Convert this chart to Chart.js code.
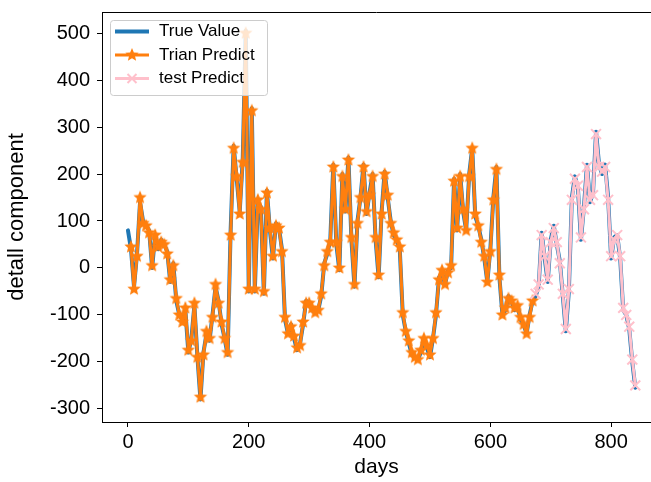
<!DOCTYPE html>
<html>
<head>
<meta charset="utf-8">
<script src="https://cdn.jsdelivr.net/npm/chart.js@4.4.0/dist/chart.umd.min.js"></script>
<style>
    html, body { margin: 0; padding: 0; background: #fff; }
    canvas { display: block; }
</style>
</head>
<body>
<canvas id="myChart" width="651" height="482"></canvas>
<script>
// one value every 5 days
const dayStep = 5
const trueStart = 0
const trainStart = 5
const testStart = 675

const seriesNames = ['True Value', 'Trian Predict', 'test Predict']
const xTitle = 'days'
const yTitle = 'detall component'
const xTicks = [0, 200, 400, 600, 800]
const yTicks = [-300, -200, -100, 0, 100, 200, 300, 400, 500]

const trueValue = [
    80, 40, -40, 30, 140, 100, 90, 80, 0, 70,
    40, 60, 50, 35, -30, 10, -70, -100, -110, -90,
    -180, -150, -80, -190, -280, -180, -140, -155, -100, -40,
    -70, -120, -150, -185, 80, 260, 190, 120, 230, 505,
    -50, 340, -50, 140, 130, -55, 165, 80, 20, 95,
    85, 40, -110, -140, -120, -150, -175, -160, -120, -70,
    -75, -90, -95, -90, -60, 10, 30, 60, 220, 50,
    -5, 200, 120, 235, 60, -40, 100, 150, 220, 115,
    160, 200, 60, -20, 120, 205, 150, 100, 70, 60,
    40, -100, -135, -160, -185, -190, -195, -180, -150, -170,
    -190, -150, -100, -20, -10, -35, -5, 0, 190, 80,
    200, 120, 80, 200, 255, 110, 90, 60, 20, -30,
    40, 150, 215, -20, -100, -90, -60, -70, -90, -80,
    -110, -120, -140, -100, -70, -60, -40, 75, 20, -30,
    60, 90, 50, 15, -60, -135, -50, 150, 195, 170,
    60, 130, 220, 140, 160, 290, 220, 200, 220, 150,
    20, 65, 70, 20, -90, -100, -130, -200, -255
]

const trainPredict = [
    45, -45, 25, 150, 95, 90, 75, 5, 70,
    45, 55, 50, 30, -25, 5, -65, -100, -115, -85,
    -175, -155, -75, -190, -275, -185, -135, -150, -105, -35,
    -75, -115, -150, -180, 70, 255, 195, 115, 225, 500,
    -45, 335, -45, 145, 125, -50, 160, 85, 25, 90,
    85, 35, -105, -140, -125, -145, -170, -165, -115, -75,
    -75, -85, -95, -90, -55, 5, 35, 55, 215, 55,
    0, 195, 125, 230, 65, -35, 95, 150, 215, 120,
    155, 195, 65, -15, 115, 200, 155, 95, 75, 60,
    45, -95, -135, -155, -180, -190, -195, -175, -150, -165,
    -185, -150, -95, -25, -5, -35, -10, 5, 185, 85,
    195, 125, 80, 195, 255, 115, 90, 55, 25, -30,
    35, 145, 210, -15, -100, -85, -65, -70, -85, -80,
    -105, -120, -140, -105, -70
]

const testPredict = [
    -55, -35, 70, 25, -25,
    55, 85, 55, 10, -55, -130, -45, 145, 190, 175,
    65, 125, 215, 145, 155, 285, 215, 205, 215, 145,
    25, 60, 70, 25, -85, -100, -125, -195, -250
]

const toPoints = (start, values) => values.map((v, i) => ({ x: start + i * dayStep, y: v }))

// filled star marker like matplotlib '*'
const starImg = (() => {
    const r = 7
    const c = document.createElement('canvas')
    c.width = c.height = r * 2 + 2
    const g = c.getContext('2d')
    const m = c.width / 2
    g.beginPath()
    for (let i = 0; i < 10; i++) {
        const rr = i % 2 ? r * 0.45 : r
        const a = -Math.PI / 2 + i * Math.PI / 5
        g.lineTo(m + rr * Math.cos(a), m + rr * Math.sin(a))
    }
    g.closePath()
    g.fillStyle = '#ff7f0e'
    g.fill()
    return c
})()

const topSpine = {
    id: 'topSpine',
    afterDraw(chart) {
        const { ctx, chartArea } = chart
        ctx.save()
        ctx.strokeStyle = '#000'
        ctx.lineWidth = 1
        ctx.beginPath()
        ctx.moveTo(chartArea.left, Math.round(chartArea.top) + 0.5)
        ctx.lineTo(chartArea.right, Math.round(chartArea.top) + 0.5)
        ctx.stroke()
        ctx.restore()
    }
}

const boxLegend = {
    id: 'boxLegend',
    afterDraw(chart) {
        const ctx = chart.ctx
        ctx.save()
        ctx.beginPath()
        ctx.roundRect(110.5, 20.5, 157, 75, 3)
        ctx.fillStyle = 'rgba(255,255,255,0.8)'
        ctx.fill()
        ctx.strokeStyle = '#cccccc'
        ctx.lineWidth = 1
        ctx.stroke()
        ctx.font = '17px "Liberation Sans", Arial, sans-serif'
        ctx.textBaseline = 'middle'
        chart.data.datasets.forEach((ds, i) => {
            const cy = 31.5 + i * 23.5
            ctx.beginPath()
            ctx.moveTo(115, cy)
            ctx.lineTo(149, cy)
            ctx.strokeStyle = ds.borderColor
            ctx.lineWidth = ds.borderWidth
            ctx.stroke()
            if (ds.pointStyle === starImg) {
                ctx.drawImage(starImg, 132 - starImg.width / 2, cy - starImg.height / 2)
            } else if (ds.pointStyle === 'crossRot') {
                const d = 4.5
                ctx.beginPath()
                ctx.moveTo(132 - d, cy - d); ctx.lineTo(132 + d, cy + d)
                ctx.moveTo(132 - d, cy + d); ctx.lineTo(132 + d, cy - d)
                ctx.lineWidth = ds.pointBorderWidth
                ctx.strokeStyle = ds.pointBorderColor
                ctx.stroke()
            }
            ctx.fillStyle = '#000'
            ctx.fillText(ds.label, 159, cy)
        })
        ctx.restore()
    }
}

Chart.defaults.font.family = '"Liberation Sans", Arial, sans-serif'
Chart.defaults.color = '#000'

const ctx = document.getElementById('myChart').getContext('2d')
const myChart = new Chart(ctx, {
    type: 'line',
    data: {
        datasets: [{
            label: seriesNames[0],
            data: toPoints(trueStart, trueValue),
            borderColor: '#1f77b4',
            borderWidth: 4,
            pointRadius: 0,
            order: 3
        }, {
            label: seriesNames[1],
            data: toPoints(trainStart, trainPredict),
            borderColor: '#ff7f0e',
            borderWidth: 3,
            pointStyle: starImg,
            pointRadius: 7,
            order: 2
        }, {
            label: seriesNames[2],
            data: toPoints(testStart, testPredict),
            borderColor: '#ffc0cb',
            borderWidth: 3,
            pointStyle: 'crossRot',
            pointRadius: 7,
            pointBorderColor: '#ffc0cb',
            pointBorderWidth: 2,
            order: 1
        }]
    },
    options: {
        responsive: false,
        animation: false,
        events: [],
        layout: { autoPadding: false, padding: { top: 12, right: 0, left: 0, bottom: 0 } },
        elements: { line: { tension: 0, borderJoinStyle: 'round', borderCapStyle: 'round' } },
        plugins: {
            legend: { display: false },
            tooltip: { enabled: false }
        },
        scales: {
            x: {
                type: 'linear',
                min: -43,
                max: 866,
                afterBuildTicks: axis => { axis.ticks = xTicks.map(value => ({ value })) },
                afterFit: axis => {
                    axis.height = 60
                    axis.paddingLeft = 0
                    axis.paddingRight = 0
                },
                ticks: { font: { size: 20 }, color: '#000', padding: 3, maxRotation: 0, autoSkip: false },
                grid: { drawOnChartArea: false, tickLength: 5, color: '#000' },
                border: { color: '#000', width: 1 },
                title: { display: true, text: xTitle, color: '#000', font: { size: 21 }, padding: { top: 0, bottom: 2 } }
            },
            y: {
                min: -328,
                max: 545,
                afterBuildTicks: axis => { axis.ticks = yTicks.map(value => ({ value })) },
                afterFit: axis => {
                    axis.width = 102
                    axis.paddingTop = 0
                    axis.paddingBottom = 0
                },
                ticks: { font: { size: 20 }, color: '#000', padding: 7, autoSkip: false },
                grid: { drawOnChartArea: false, tickLength: 5, color: '#000' },
                border: { color: '#000', width: 1 },
                title: { display: true, text: yTitle, color: '#000', font: { size: 22 }, padding: { top: 4, bottom: 0 } }
            }
        }
    },
    plugins: [topSpine, boxLegend]
})
</script>
</body>
</html>
